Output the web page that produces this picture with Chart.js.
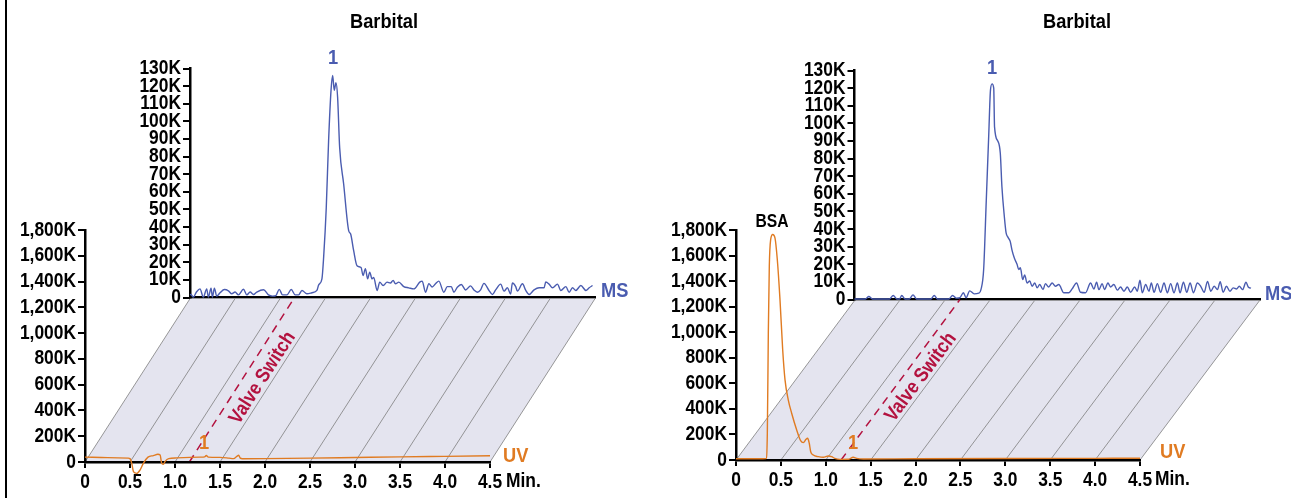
<!DOCTYPE html>
<html><head><meta charset="utf-8">
<script src="https://cdn.jsdelivr.net/npm/chart.js@4.4.1/dist/chart.umd.min.js"></script>
<style>
html,body{margin:0;padding:0;background:#fff;}
#wrap{position:relative;width:1291px;height:498px;overflow:hidden;background:#fff;}
canvas{position:absolute;left:0;top:0;}
#frame{position:absolute;left:5px;top:0;width:2px;height:498px;background:#000;}
</style></head><body>
<div id="wrap">
<div id="frame"></div>
<canvas id="msL" width="1291" height="498" style="z-index:1"></canvas>
<canvas id="msR" width="1291" height="498" style="z-index:2"></canvas>
<canvas id="uvL" width="1291" height="498" style="z-index:3"></canvas>
<canvas id="uvR" width="1291" height="498" style="z-index:4"></canvas>
</div>
<script>
// ---------- data ----------
const timeTicks = [0,0.5,1,1.5,2,2.5,3,3.5,4,4.5];
const timeTickLabels = ['0','0.5','1.0','1.5','2.0','2.5','3.0','3.5','4.0','4.5'];
const uvTicks = [0,200,400,600,800,1000,1200,1400,1600,1800];
const uvTickLabels = ['0','200K','400K','600K','800K','1,000K','1,200K','1,400K','1,600K','1,800K'];
const msTicks = [0,10,20,30,40,50,60,70,80,90,100,110,120,130];
const msTickLabels = ['0','10K','20K','30K','40K','50K','60K','70K','80K','90K','100K','110K','120K','130K'];
const valveSwitchLeft = 1.16;
const valveSwitchRight = 1.17;

// [time (min), intensity (K)]
const msLeft = [[0,1.5],[0.011,1.7],[0.037,0.2],[0.07,3],[0.111,4.9],[0.148,0.2],[0.186,4.9],[0.204,0.2],[0.234,5.3],[0.249,0.2],[0.271,5.3],[0.297,0.8],[0.334,2.7],[0.382,4.5],[0.427,3.8],[0.464,2.1],[0.501,3.1],[0.538,1.5],[0.594,4.7],[0.631,1.5],[0.668,3.1],[0.705,1.7],[0.742,3.1],[0.817,4.4],[0.872,1.5],[0.917,0.8],[0.954,1.1],[0.991,4.6],[1.028,1.5],[1.077,1.5],[1.125,4.5],[1.169,1.5],[1.207,1.5],[1.244,4.0],[1.299,2.1],[1.355,2.7],[1.41,4.0],[1.43,7.2],[1.466,10.6],[1.485,22.9],[1.514,51],[1.54,89],[1.567,117.6],[1.585,126],[1.603,117.6],[1.622,122],[1.64,113.8],[1.663,85],[1.707,64.6],[1.763,38],[1.785,36],[1.818,26.7],[1.856,18],[1.901,17],[1.923,12.5],[1.949,16.3],[1.974,10.6],[1.997,14.4],[2.023,10.6],[2.041,11.4],[2.079,4],[2.108,8.7],[2.146,6.8],[2.19,8.7],[2.227,8.2],[2.257,9.7],[2.283,7.8],[2.32,8.7],[2.375,6.2],[2.431,5.5],[2.487,4.9],[2.553,8.7],[2.58,9.3],[2.617,3],[2.654,7.8],[2.691,6],[2.728,7.8],[2.765,9.3],[2.82,3],[2.859,6.2],[2.903,6.2],[2.932,3],[2.97,5.8],[3.014,7.4],[3.062,4.3],[3.118,6.6],[3.155,4.3],[3.193,3],[3.229,4.3],[3.266,8],[3.322,4],[3.36,1.7],[3.396,4.3],[3.452,7.6],[3.489,3.6],[3.527,5.5],[3.563,2],[3.582,8.2],[3.619,6.2],[3.638,3.6],[3.694,7.8],[3.731,4],[3.768,1.7],[3.823,4.3],[3.879,5.5],[3.934,5.5],[3.953,8.8],[3.99,7.6],[4.028,5.5],[4.083,7.6],[4.12,4],[4.176,6.2],[4.213,3],[4.25,5.5],[4.287,4],[4.343,6.8],[4.399,4],[4.435,5.5],[4.473,6.8]];

const uvLeft = [[0,38],[0.25,34],[0.48,30],[0.5,26],[0.52,-13],[0.54,-77],[0.575,-88],[0.61,-64],[0.65,-8],[0.7,38],[0.76,50],[0.81,60],[0.835,55],[0.85,-5],[0.87,-18],[0.89,5],[0.93,26],[1.02,32],[1.28,38],[1.33,40],[1.347,50],[1.37,38],[1.5,36],[1.6,30],[1.65,26],[1.69,45],[1.707,52],[1.725,30],[1.75,25],[2.0,26],[2.5,30],[3.0,35],[3.5,40],[4.0,44],[4.5,48]];

const msRight = [[0,0.3],[0.12,0.3],[0.16,1.7],[0.2,0.3],[0.39,0.3],[0.43,2.3],[0.47,0.3],[0.5,0.3],[0.525,2.3],[0.56,0.3],[0.61,0.3],[0.65,2.6],[0.69,0.3],[0.85,0.3],[0.886,2.3],[0.92,0.3],[1.05,0.3],[1.09,2.3],[1.13,0.8],[1.17,1.0],[1.21,3.8],[1.24,1.0],[1.28,4.9],[1.33,3.2],[1.38,3.6],[1.405,5.6],[1.435,17],[1.464,56],[1.492,94],[1.511,119],[1.529,122.4],[1.547,120],[1.556,98],[1.592,90],[1.62,83],[1.638,64],[1.665,47],[1.684,38],[1.709,35],[1.73,33],[1.75,28],[1.776,23.5],[1.806,20],[1.825,17],[1.843,18],[1.869,11.3],[1.891,14],[1.917,9.4],[1.947,10.5],[1.973,7.5],[2.003,9.4],[2.029,6.6],[2.058,8.5],[2.095,5.6],[2.121,9.0],[2.158,7.1],[2.196,9.4],[2.233,7.5],[2.27,8.5],[2.326,3.8],[2.381,3.8],[2.418,6.0],[2.467,9.4],[2.511,4.1],[2.567,3.8],[2.623,9.4],[2.66,6.0],[2.69,9.8],[2.715,5.6],[2.752,9.0],[2.778,5.6],[2.816,9.4],[2.845,7.1],[2.882,8.5],[2.92,5.3],[2.956,7.1],[2.994,4.7],[3.031,7.1],[3.068,4.1],[3.113,7.1],[3.142,4.7],[3.172,10.9],[3.198,3.8],[3.235,8.5],[3.272,4.7],[3.298,9.4],[3.328,4.1],[3.365,9.0],[3.402,4.1],[3.439,9.4],[3.476,3.8],[3.513,9.0],[3.55,3.8],[3.588,9.4],[3.617,3.8],[3.655,9.8],[3.692,4.1],[3.729,9.4],[3.766,3.8],[3.81,9.4],[3.847,7.5],[3.885,4.1],[3.922,10.3],[3.959,4.7],[3.996,7.5],[4.033,5.6],[4.063,10.1],[4.096,4.1],[4.133,7.5],[4.171,4.7],[4.208,6.6],[4.245,6.0],[4.275,7.5],[4.312,5.6],[4.35,9.8],[4.375,7.1],[4.405,6.4]];

const uvRight = [[0,10],[0.3,10],[0.334,11],[0.349,210],[0.36,994],[0.371,1516],[0.386,1725],[0.409,1765],[0.434,1738],[0.46,1569],[0.49,1255],[0.52,863],[0.546,627],[0.582,471],[0.62,366],[0.676,235],[0.72,151],[0.75,136],[0.78,162],[0.798,170],[0.816,131],[0.832,65],[0.861,39],[0.917,26],[0.972,21],[1.028,31],[1.065,26],[1.1,13],[1.158,5],[1.25,6],[1.306,21],[1.344,13],[1.418,8],[2.0,10],[3.0,12],[4.0,13],[4.5,14]];

// ---------- layout & style ----------
const W = 1291, H = 498;
const FONT = "'Liberation Sans', Arial, Helvetica, sans-serif";
const SX = 0.87;   // horizontal squeeze to imitate a condensed face
const FS = {tick: 20, title: 21, valve: 20, lab: 21, bsa: 18};
const MS_BLUE = '#4a5cb0', UV_ORANGE = '#e07b22', VALVE = '#b3123f';
const PLANE_FILL = '#e4e4ef', PLANE_LINE = '#7d7d7d';
Chart.defaults.font.family = FONT;

// Linear scale whose tick labels are drawn horizontally condensed
class CondensedLinearScale extends Chart.LinearScale {
  drawLabels(area){
    const ctx = this.ctx;
    const orig = CanvasRenderingContext2D.prototype.fillText;
    ctx.fillText = function(text, x, y, mw){
      this.save(); this.scale(SX, 1);
      if (mw === undefined) orig.call(this, text, x / SX, y); else orig.call(this, text, x / SX, y, mw / SX);
      this.restore();
    };
    try { super.drawLabels(area); } finally { delete ctx.fillText; }
  }
}
CondensedLinearScale.id = 'condensedLinear';
CondensedLinearScale.defaults = Chart.LinearScale.defaults;
Chart.register(CondensedLinearScale);

function axisX(show){
  return {type: 'condensedLinear', min: 0, max: 4.5,
    afterFit: s => { s.height = 36; },
    afterBuildTicks: s => { s.ticks = timeTicks.map(v => ({value: v})); },
    grid: {display: show, drawOnChartArea: false, drawTicks: true, tickLength: 6, color: '#000', lineWidth: 2},
    border: {display: true, color: '#000', width: 2.5},
    ticks: {display: show, padding: 2, color: '#000', maxRotation: 0, autoSkip: false,
      font: {family: FONT, weight: 'bold', size: FS.tick},
      callback: (v, i) => timeTickLabels[i]}};
}
function axisY(ticks, labels){
  return {type: 'condensedLinear', min: 0, max: ticks[ticks.length - 1],
    afterFit: s => { s.width = 80; },
    afterBuildTicks: s => { s.ticks = ticks.map(v => ({value: v})); },
    grid: {display: true, drawOnChartArea: false, drawTicks: true, tickLength: 7, color: '#000', lineWidth: 2},
    border: {display: true, color: '#000', width: 2.5},
    ticks: {padding: 2, color: '#000', autoSkip: false,
      font: {family: FONT, weight: 'bold', size: FS.tick},
      callback: (v, i) => labels[i]}};
}
function makeChart(id, area, pts, color, isUV, plugins){
  return new Chart(document.getElementById(id), {
    type: 'line',
    data: {datasets: [{data: pts.map(p => ({x: p[0], y: p[1]})), borderColor: color, borderWidth: 1.4,
      pointRadius: 0, fill: false, cubicInterpolationMode: 'monotone', clip: false}]},
    options: {
      responsive: false, animation: false, events: [],
      layout: {padding: {left: area.l - 80, right: W - area.r, top: area.t, bottom: H - area.b - 36}},
      plugins: {legend: {display: false}, tooltip: {enabled: false}},
      scales: {
        x: axisX(isUV),
        y: isUV ? axisY(uvTicks, uvTickLabels) : axisY(msTicks, msTickLabels)
      }
    },
    plugins: plugins
  });
}

function text(c, s, x, y, align){
  c.save(); c.translate(x, y); c.scale(SX, 1); c.textAlign = align; c.fillText(s, 0, 0); c.restore();
}

function panelPlugin(msChart, cfg){
  return {
    id: 'panel',
    beforeDraw(ch){
      const c = ch.ctx, ux = ch.scales.x, uy = ch.scales.y, mx = msChart.scales.x, my = msChart.scales.y;
      const yb = uy.getPixelForValue(0), yt = my.getPixelForValue(0) + 1.2;
      const B = t => ux.getPixelForValue(t), T = t => mx.getPixelForValue(t);
      c.save();
      c.beginPath();
      c.moveTo(B(0), yb); c.lineTo(T(0), yt); c.lineTo(T(4.5), yt); c.lineTo(B(4.5), yb); c.closePath();
      c.fillStyle = PLANE_FILL; c.fill();
      c.strokeStyle = PLANE_LINE; c.lineWidth = 0.8;
      timeTicks.forEach(t => { c.beginPath(); c.moveTo(B(t), yb); c.lineTo(T(t), yt); c.stroke(); });
      const v = cfg.valve;
      c.strokeStyle = VALVE; c.lineWidth = 1.5; c.setLineDash([8, 6]);
      c.beginPath(); c.moveTo(B(v), yb); c.lineTo(T(v), yt - 1); c.stroke();
      c.setLineDash([]);
      const a = Math.atan2(yt - yb, T(v) - B(v));
      const px = B(v) + cfg.vf * (T(v) - B(v)), py = yb + cfg.vf * (yt - yb);
      c.translate(px, py); c.rotate(a);
      c.fillStyle = VALVE; c.font = 'bold ' + FS.valve + 'px ' + FONT; c.textBaseline = 'middle';
      text(c, 'Valve Switch', 0, cfg.voff, 'center');
      c.restore();
    },
    afterDraw(ch){
      const c = ch.ctx, ux = ch.scales.x, uy = ch.scales.y;
      c.save();
      c.textBaseline = 'middle';
      c.font = 'bold ' + FS.title + 'px ' + FONT; c.fillStyle = '#000';
      text(c, 'Barbital', cfg.title[0], cfg.title[1], 'center');
      c.font = 'bold ' + FS.tick + 'px ' + FONT;
      text(c, 'Min.', ux.getPixelForValue(4.5) + cfg.minOff, uy.getPixelForValue(0) + 19, 'left');
      c.fillStyle = MS_BLUE; c.font = 'bold ' + FS.lab + 'px ' + FONT;
      text(c, 'MS', cfg.ms[0], cfg.ms[1], 'left');
      text(c, '1', cfg.ms1[0], cfg.ms1[1], 'center');
      c.fillStyle = UV_ORANGE;
      text(c, 'UV', cfg.uv[0], cfg.uv[1], 'left');
      text(c, '1', cfg.uv1[0], cfg.uv1[1], 'center');
      if (cfg.bsa){ c.fillStyle = '#000'; c.font = 'bold ' + FS.bsa + 'px ' + FONT; text(c, 'BSA', cfg.bsa[0], cfg.bsa[1], 'center'); }
      c.restore();
    }
  };
}

function buildPanel(ids, areas, msData, uvData, cfg){
  const ms = makeChart(ids[0], areas.ms, msData, MS_BLUE, false, []);
  makeChart(ids[1], areas.uv, uvData, UV_ORANGE, true, [panelPlugin(ms, cfg)]);
}

buildPanel(['msL', 'uvL'],
  {uv: {l: 85, r: 490, t: 230, b: 462}, ms: {l: 190, r: 595, t: 68.5, b: 297.5}},
  msLeft, uvLeft,
  {valve: valveSwitchLeft, vf: 0.568, voff: 16, title: [384, 22], ms: [601, 291], ms1: [333, 58],
   uv: [503, 456], uv1: [204, 443], minOff: 16});

buildPanel(['msR', 'uvR'],
  {uv: {l: 736, r: 1140, t: 230, b: 460}, ms: {l: 854.5, r: 1259.5, t: 70.5, b: 299.5}},
  msRight, uvRight,
  {valve: valveSwitchRight, vf: 0.574, voff: 14.5, title: [1077, 22], ms: [1265, 294], ms1: [992, 68],
   uv: [1160, 452], uv1: [853, 443], bsa: [772, 222], minOff: 15});
</script>
</body></html>
